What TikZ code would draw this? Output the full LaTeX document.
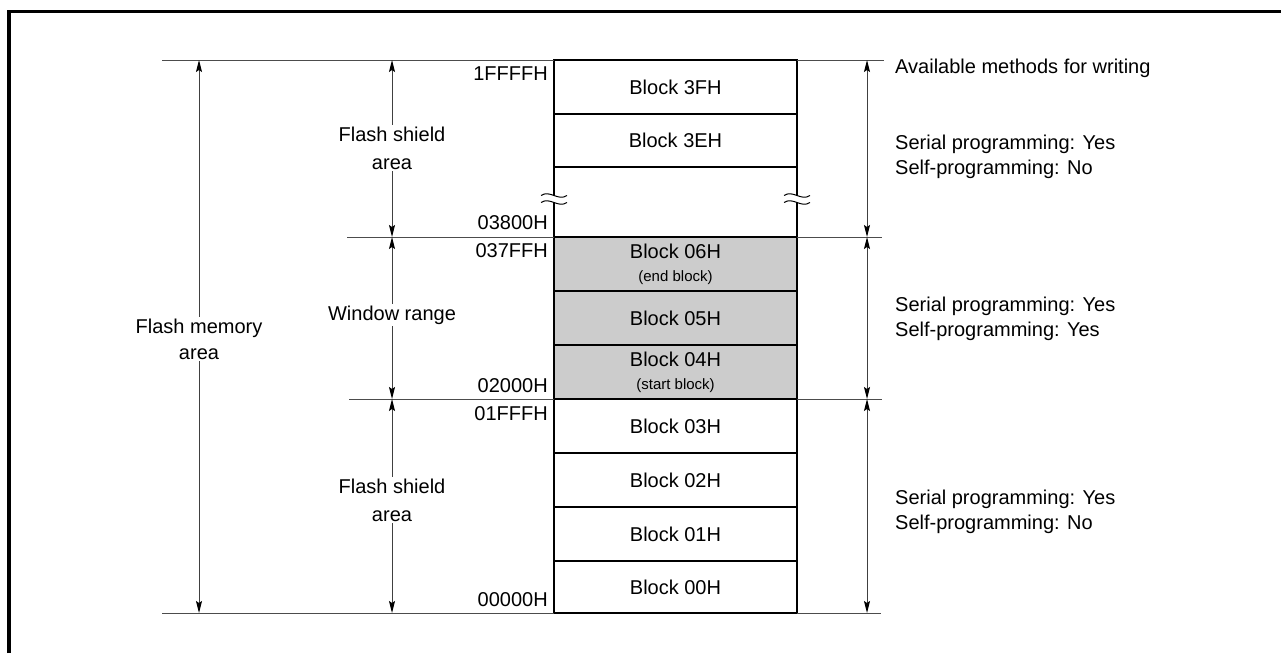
\documentclass[tikz,border=0pt]{standalone}
\usepackage{fontspec}
\setmainfont{Liberation Sans}
\usetikzlibrary{arrows.meta}
\begin{document}
\begin{tikzpicture}[x=1pt,y=-1pt,
  txt/.style={font=\fontsize{20}{27}\selectfont, inner sep=0pt},
  small/.style={font=\fontsize{15}{18}\selectfont},
  blk/.style={draw, line width=1.4pt, minimum width=243pt, inner sep=0pt, outer sep=0pt,
    align=center, font=\fontsize{20}{25}\selectfont},
  shaded/.style={fill=black!20},
  extline/.style={draw=black!70, line width=1pt},
  dimarrow/.style={draw=black!75, line width=1pt,
    {Stealth[black,length=12pt,width=6pt,inset=2pt]}-{Stealth[black,length=12pt,width=6pt,inset=2pt]}},
  lbl/.style={fill=white, align=center, inner sep=2pt, font=\fontsize{20}{27}\selectfont},
  addr/.style={anchor=base east, inner sep=0pt, font=\fontsize{20}{24}\selectfont},
  note/.style={anchor=base west, inner sep=0pt, font=\fontsize{20}{24}\selectfont}]
\useasboundingbox (0,0) rectangle (1281,653);
% outer frame
\draw[line width=3.5pt] (9,653) -- (9,11.7) -- (1281,11.7);

% blocks
\node[blk, minimum height=54pt] (b3F) at (675.5,87) {Block 3FH};
\node[blk, minimum height=53pt] (b3E) at (675.5,140.5) {Block 3EH};
\node[blk, shaded, minimum height=54pt] (b06) at (675.5,264) {Block 06H\\[-2pt]{\fontsize{15}{18}\selectfont (end block)}};
\node[blk, shaded, minimum height=54pt] (b05) at (675.5,318) {Block 05H};
\node[blk, shaded, minimum height=54pt] (b04) at (675.5,372) {Block 04H\\[-2pt]{\fontsize{15}{18}\selectfont (start block)}};
\node[blk, minimum height=54pt] (b03) at (675.5,426) {Block 03H};
\node[blk, minimum height=54pt] (b02) at (675.5,480) {Block 02H};
\node[blk, minimum height=54pt] (b01) at (675.5,534) {Block 01H};
\node[blk, minimum height=52pt] (b00) at (675.5,587) {Block 00H};
\draw[line width=2pt] (b3F.north west) rectangle (b00.south east);

% break marks
\foreach \x in {554,797} {
  \fill[white] (\x-13,195.5) .. controls (\x-4,189.5) and (\x+4,201.5) .. (\x+13,195.5)
     -- (\x+13,202.5) .. controls (\x+4,208.5) and (\x-4,196.5) .. (\x-13,202.5) -- cycle;
  \draw[line width=1pt] (\x-13,195.5) .. controls (\x-4,189.5) and (\x+4,201.5) .. (\x+13,195.5);
  \draw[line width=1pt] (\x-13,202.5) .. controls (\x-4,196.5) and (\x+4,208.5) .. (\x+13,202.5);
}

% extension lines
\coordinate (lT) at (162,60);
\coordinate (lB) at (162,613);
\coordinate (m1) at (347,237);
\coordinate (m2) at (349,399);
\coordinate (rT) at (884,60);
\coordinate (r1) at (882,237);
\coordinate (r2) at (882,399);
\coordinate (rB) at (881,613);
\draw[extline] (lT) -- (b3F.north west);
\draw[extline] (lB) -- (b00.south west);
\draw[extline] (m1) -- (b06.north west);
\draw[extline] (m2) -- (b04.south west);
\draw[extline] (b3F.north east) -- (rT);
\draw[extline] (b06.north east) -- (r1);
\draw[extline] (b04.south east) -- (r2);
\draw[extline] (b00.south east) -- (rB);

% dimension arrows left
\coordinate (a0) at (199,60);
\coordinate (a1) at (199,613);
\draw[dimarrow] (a0) -- (a1);
\node[lbl, font=\fontsize{20}{26}\selectfont] (fma) at (199,339) {Flash memory\\area};

\coordinate (i0) at (392,60);
\coordinate (i1) at (392,237);
\coordinate (i2) at (392,399);
\coordinate (i3) at (392,613);
\draw[dimarrow] (i0) -- (i1);
\draw[dimarrow] (i1) -- (i2);
\draw[dimarrow] (i2) -- (i3);
\node[lbl, font=\fontsize{20}{28}\selectfont] (fs1) at (392,148) {Flash shield\\area};
\node[lbl] (win) at (392,315) {Window range};
\node[lbl, font=\fontsize{20}{28}\selectfont] (fs2) at (392,500) {Flash shield\\area};

% dimension arrows right
\coordinate (q0) at (867,60);
\coordinate (q1) at (867,237);
\coordinate (q2) at (867,399);
\coordinate (q3) at (867,613);
\draw[dimarrow] (q0) -- (q1);
\draw[dimarrow] (q1) -- (q2);
\draw[dimarrow] (q2) -- (q3);

% addresses
\node[addr] (ad1) at (548,80) {1FFFFH};
\node[addr] (ad2) at (548,229) {03800H};
\node[addr] (ad3) at (548,257) {037FFH};
\node[addr] (ad4) at (548,392) {02000H};
\node[addr] (ad5) at (548,420) {01FFFH};
\node[addr] (ad6) at (548,606) {00000H};

% notes
\node[note] (n0) at (895,73) {Available methods for writing};
\node[note] (n1) at (895,149) {Serial programming: Yes};
\node[note] (n2) at (895,174) {Self-programming: No};
\node[note] (n3) at (895,311) {Serial programming: Yes};
\node[note] (n4) at (895,336) {Self-programming: Yes};
\node[note] (n5) at (895,504) {Serial programming: Yes};
\node[note] (n6) at (895,529) {Self-programming: No};
\end{tikzpicture}
\end{document}
